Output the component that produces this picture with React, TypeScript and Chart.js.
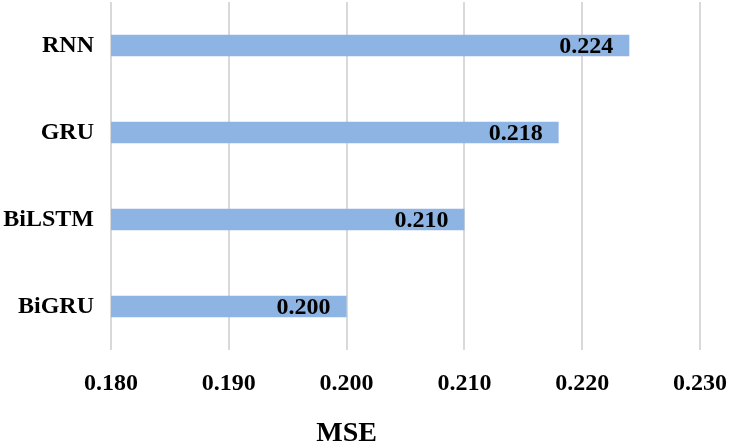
import React, { useEffect, useRef } from "react";
import { Chart, registerables } from "chart.js";

Chart.register(...registerables);

const categories = ["RNN", "GRU", "BiLSTM", "BiGRU"];
const mseValues = [0.224, 0.218, 0.21, 0.2];
const xMin = 0.18;
const xMax = 0.23;
const xStep = 0.01;
const axisTitle = "MSE";
const titleAtValue = 0.2;

const FONT = "'Liberation Serif', 'Times New Roman', serif";

const valueLabels = {
  id: "valueLabels",
  afterDatasetsDraw(chart: any) {
    const ctx = chart.ctx;
    const meta = chart.getDatasetMeta(0);
    ctx.save();
    ctx.font = `bold 24px ${FONT}`;
    ctx.fillStyle = "#000";
    ctx.textAlign = "right";
    ctx.textBaseline = "middle";
    meta.data.forEach((bar: any, i: number) => {
      const v = chart.data.datasets[0].data[i];
      ctx.fillText(Number(v).toFixed(3), bar.x - 16, bar.y + 1);
    });
    ctx.restore();
  },
};

const axisTitlePlugin = {
  id: "axisTitlePlugin",
  afterDraw(chart: any) {
    const ctx = chart.ctx;
    const x = chart.scales.x.getPixelForValue(titleAtValue);
    ctx.save();
    ctx.font = `bold 28px ${FONT}`;
    ctx.fillStyle = "#000";
    ctx.textAlign = "center";
    ctx.textBaseline = "middle";
    ctx.fillText(axisTitle, x, 434);
    ctx.restore();
  },
};

export default function App() {
  const ref = useRef<HTMLCanvasElement | null>(null);

  useEffect(() => {
    document.body.style.margin = "0";
    const chart = new Chart(ref.current as HTMLCanvasElement, {
      type: "bar",
      data: {
        labels: categories,
        datasets: [
          {
            data: mseValues,
            backgroundColor: "#8EB4E3",
            borderWidth: 0,
            barPercentage: 0.245,
            categoryPercentage: 1,
          },
        ],
      },
      options: {
        indexAxis: "y",
        animation: false,
        responsive: true,
        maintainAspectRatio: false,
        layout: { padding: { top: 2, right: 30, left: 0, bottom: 0 } },
        plugins: {
          legend: { display: false },
          tooltip: { enabled: false },
        },
        scales: {
          x: {
            min: xMin,
            max: xMax,
            grid: { color: "#d9d9d9", lineWidth: 2, drawTicks: false },
            border: { display: false },
            ticks: {
              stepSize: xStep,
              padding: 19,
              color: "#000",
              font: { family: FONT, size: 24, weight: "bold" },
              callback: (v: any) => Number(v).toFixed(3),
            },
            afterFit: (scale: any) => {
              scale.height = 97;
              scale.paddingLeft = 0;
              scale.paddingRight = 0;
            },
          },
          y: {
            grid: { display: false, drawTicks: false },
            border: { display: false },
            ticks: {
              padding: 17,
              color: "#000",
              font: { family: FONT, size: 24, weight: "bold" },
            },
            afterFit: (scale: any) => {
              scale.width = 111;
              scale.paddingTop = 0;
              scale.paddingBottom = 0;
            },
          },
        },
      },
      plugins: [valueLabels, axisTitlePlugin],
    });
    return () => chart.destroy();
  }, []);

  return (
    <div style={{ width: 730, height: 447, position: "relative" }}>
      <canvas ref={ref} />
    </div>
  );
}
